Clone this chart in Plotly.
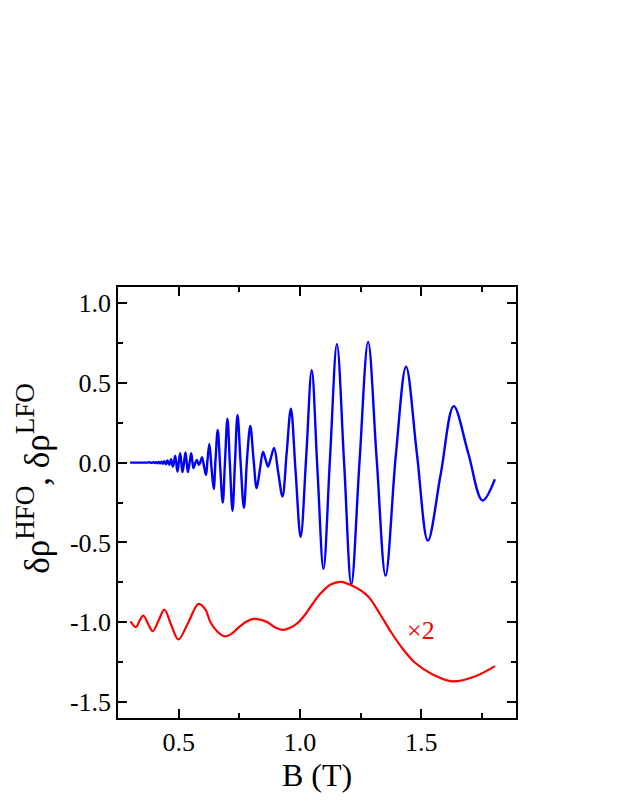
import plotly.graph_objects as go

# Blue: high-frequency oscillations (HFO)
hfo_B = [0.300, 0.340, 0.370, 0.380, 0.388, 0.396, 0.403, 0.408, 0.413, 0.418, 0.4235,
         0.429, 0.435, 0.4407, 0.447, 0.4537, 0.461, 0.4687, 0.4756, 0.4805, 0.4853,
         0.490, 0.495, 0.5005, 0.506, 0.511, 0.5157, 0.522, 0.528, 0.533, 0.5378,
         0.545, 0.5517, 0.557, 0.5613, 0.568, 0.5752, 0.579, 0.5835, 0.590, 0.596,
         0.604, 0.6125, 0.619, 0.6264, 0.635, 0.6443, 0.652, 0.6609, 0.671, 0.6817,
         0.691, 0.701, 0.711, 0.7218, 0.732, 0.7425, 0.755, 0.7688, 0.782, 0.7951,
         0.808, 0.8214, 0.835, 0.8476, 0.858, 0.8684, 0.880, 0.8933, 0.910, 0.9279,
         0.945, 0.9624, 0.982, 1.0026, 1.026, 1.0482, 1.072, 1.0966, 1.124, 1.152,
         1.182, 1.2114, 1.245, 1.2806, 1.316, 1.3525, 1.395, 1.4369, 1.482, 1.5268,
         1.580, 1.6333, 1.693, 1.752, 1.803]
hfo_val = [0.0, 0.0, 0.0, 0.002, -0.002, 0.003, -0.003, 0.003, -0.004, 0.004, -0.005,
           0.006, -0.007, 0.009, -0.010, 0.013, -0.014, 0.021, -0.025, 0.0, 0.042,
           0.0, -0.056, 0.0, 0.059, 0.0, -0.060, 0.0, 0.063, 0.0, -0.060,
           0.0, 0.059, 0.0, -0.035, -0.005, 0.017, 0.0, -0.014, 0.005, 0.034,
           -0.020, -0.077, 0.020, 0.117, -0.025, -0.166, 0.020, 0.204, -0.025, -0.250,
           0.010, 0.275, -0.010, -0.302, 0.0, 0.298, 0.005, -0.283, 0.030, 0.229,
           0.030, -0.160, -0.040, 0.067, 0.020, -0.025, 0.030, 0.092, -0.060, -0.212,
           0.060, 0.338, -0.060, -0.466, 0.050, 0.579, -0.050, -0.666, 0.040, 0.742,
           -0.010, -0.764, 0.0, 0.756, 0.020, -0.708, 0.050, 0.600, 0.050, -0.489,
           -0.070, 0.354, 0.060, -0.237, -0.104]

# Red: low-frequency oscillations (LFO), shown x2
lfo_B = [0.3015, 0.3235, 0.339, 0.354, 0.374, 0.393, 0.417, 0.441, 0.470, 0.499,
         0.540, 0.582, 0.610, 0.631, 0.660, 0.690, 0.720, 0.745, 0.780, 0.810,
         0.840, 0.866, 0.900, 0.928, 0.960, 0.990, 1.020, 1.045, 1.087, 1.125,
         1.167, 1.220, 1.280, 1.330, 1.377, 1.420, 1.474, 1.550, 1.629, 1.720, 1.803]
lfo_val = [-0.994, -1.031, -0.990, -0.958, -1.010, -1.056, -0.990, -0.921, -1.020, -1.108,
           -1.000, -0.885, -0.920, -1.000, -1.060, -1.089, -1.070, -1.035, -0.995, -0.979,
           -0.985, -1.000, -1.035, -1.048, -1.035, -1.005, -0.955, -0.900, -0.816, -0.765,
           -0.7475, -0.775, -0.8375, -0.950, -1.066, -1.160, -1.254, -1.330, -1.371, -1.340, -1.275]

x_ticks = [0.5, 1.0, 1.5]
x_tick_labels = ["0.5", "1.0", "1.5"]
y_ticks = [1.0, 0.5, 0.0, -0.5, -1.0, -1.5]
y_tick_labels = ["1.0", "0.5", "0.0", "-0.5", "-1.0", "-1.5"]

FONT = "Liberation Serif, Times New Roman, serif"

fig = go.Figure()
fig.add_trace(go.Scatter(x=hfo_B, y=hfo_val, mode="lines",
                         line=dict(color="#0000FF", width=2.4, shape="spline", smoothing=1.0),
                         showlegend=False))
fig.add_trace(go.Scatter(x=lfo_B, y=lfo_val, mode="lines",
                         line=dict(color="#FF0000", width=2.2, shape="spline", smoothing=1.0),
                         showlegend=False))

fig.add_annotation(x=1.50, y=-1.05, text="×2", showarrow=False,
                   font=dict(family=FONT, size=26, color="#FF0000"))

# y-axis title as rotated annotation for exact placement
sup_style = "font-size:27px"
fig.add_annotation(xref="paper", yref="paper", x=0, y=0.555, xshift=-84,
                   xanchor="center", yanchor="middle", textangle=-90, showarrow=False,
                   text=f"δρ<sup><span style='{sup_style}'>HFO</span></sup>, "
                        f"δρ<sup><span style='{sup_style}'>LFO</span></sup>",
                   font=dict(family=FONT, size=35, color="black"))

axis_common = dict(showline=True, linecolor="black", linewidth=1.5, mirror="allticks",
                   ticks="inside", ticklen=9, tickwidth=1.5, tickcolor="black",
                   showgrid=False, zeroline=False,
                   tickfont=dict(family=FONT, size=26, color="black"))

fig.update_xaxes(range=[0.25, 1.89], tickvals=x_ticks, ticktext=x_tick_labels,
                 minor=dict(ticks="inside", dtick=0.25, tick0=0, ticklen=5, tickwidth=1.5, tickcolor="black"),
                 title=dict(text="B (T)", font=dict(family=FONT, size=32, color="black"), standoff=6),
                 **axis_common)
fig.update_yaxes(range=[-1.6, 1.1], tickvals=y_ticks, ticktext=y_tick_labels,
                 minor=dict(ticks="inside", dtick=0.25, tick0=0, ticklen=5, tickwidth=1.5, tickcolor="black"),
                 **axis_common)

# page body adds an 8px offset; margins compensate so the frame sits where the reference has it
fig.update_layout(width=623, height=806,
                  margin=dict(l=110, r=115, t=279, b=96, autoexpand=False),
                  plot_bgcolor="white", paper_bgcolor="white")

fig.write_html("out.html")
